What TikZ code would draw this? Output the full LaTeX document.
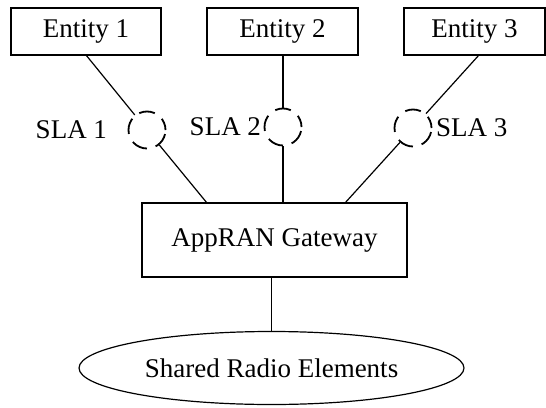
\documentclass[tikz,border=0pt]{standalone}
\usepackage{fontspec}
\setmainfont{Liberation Serif}
\usetikzlibrary{positioning,shapes.geometric}

\begin{document}
\begin{tikzpicture}[x=0.5pt, y=-0.5pt, line width=0.6pt,
    txt/.style={font=\fontsize{13.5}{16}\selectfont, inner sep=0pt},
    entbox/.style={txt, draw, rectangle, minimum height=23.5pt},
    slaring/.style={draw, circle, minimum size=18.5pt, inner sep=0pt, line width=0.9pt, dash pattern=on 8pt off 4.5pt, dash phase=2pt}]
    \useasboundingbox (0,0) rectangle (546,407);

    % Entidades
    \node[entbox, minimum width=75pt] (ent1) at (86,31.5) {Entity 1};
    \node[entbox, minimum width=75.5pt] (ent2) at (282.5,31.5) {Entity 2};
    \node[entbox, minimum width=70.5pt] (ent3) at (474.5,31.5) {Entity 3};

    % Gateway y elementos compartidos
    \node[entbox, minimum width=132.5pt, minimum height=37pt] (gw) at (274.5,240) {AppRAN Gateway};
    \node[txt, draw, ellipse, minimum width=192.5pt, minimum height=36.5pt] (shared) at (271.5,368) {Shared Radio Elements};

    % Anillos SLA
    \node[slaring] (sla1) at (147,130) {};
    \node[slaring] (sla2) at (283,127) {};
    \node[slaring] (sla3) at (413,128) {};
    \node[txt, left=10pt of sla1] (lab1) {SLA 1};
    \node[txt, left=1pt of sla2] (lab2) {SLA 2};
    \node[txt, right=1.5pt of sla3] (lab3) {SLA 3};

    % Puntos de llegada al gateway
    \coordinate (gw1) at (207,203);
    \coordinate (gw2) at (283,203);
    \coordinate (gw3) at (345,203);
    \coordinate (top1) at (86,55);
    \coordinate (top3) at (479,55);

    % Lineas
    \draw (top1) -- (sla1);
    \draw (sla1) -- (gw1);
    \draw (ent2.south -| sla2) -- (sla2);
    \draw (sla2) -- (gw2);
    \draw (top3) -- (sla3);
    \draw (sla3) -- (gw3);
    \draw (shared.north |- gw.south) -- (shared.north);
\end{tikzpicture}
\end{document}
